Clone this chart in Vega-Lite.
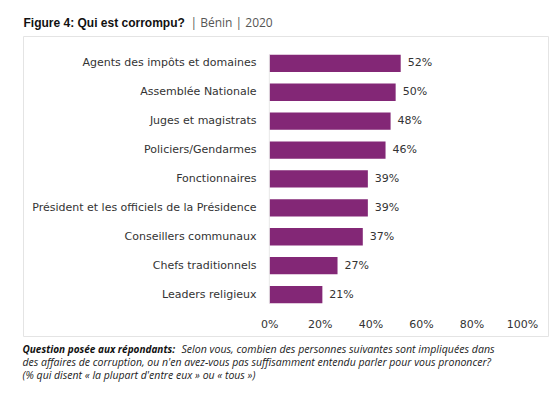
{
  "$schema": "https://vega.github.io/schema/vega-lite/v6.json",
  "width": 525,
  "height": 300,
  "autosize": {"type": "none"},
  "padding": {"left": 23, "top": 36, "right": 2, "bottom": 61},
  "background": "white",
  "config": {
    "view": {"stroke": "#e4e4e4", "strokeWidth": 1},
    "font": "DejaVu Sans",
    "axis": {"grid": false}
  },
  "data": {
    "values": [
      {"groupe": "Agents des impôts et domaines", "valeur": 0.52},
      {"groupe": "Assemblée Nationale", "valeur": 0.50},
      {"groupe": "Juges et magistrats", "valeur": 0.48},
      {"groupe": "Policiers/Gendarmes", "valeur": 0.46},
      {"groupe": "Fonctionnaires", "valeur": 0.39},
      {"groupe": "Président et les officiels de la Présidence", "valeur": 0.39},
      {"groupe": "Conseillers communaux", "valeur": 0.37},
      {"groupe": "Chefs traditionnels", "valeur": 0.27},
      {"groupe": "Leaders religieux", "valeur": 0.21}
    ]
  },
  "resolve": {"axis": {"x": "independent", "y": "independent"}},
  "layer": [
    {
      "mark": {"type": "bar", "color": "#832776"},
      "encoding": {
        "y": {
          "field": "groupe",
          "type": "nominal",
          "sort": null,
          "scale": {
            "domain": ["Agents des impôts et domaines", "Assemblée Nationale", "Juges et magistrats", "Policiers/Gendarmes", "Fonctionnaires", "Président et les officiels de la Présidence", "Conseillers communaux", "Chefs traditionnels", "Leaders religieux"],
            "paddingInner": 0.4,
            "paddingOuter": 0.89,
            "align": 0.363
          },
          "axis": {
            "orient": "left",
            "offset": -246,
            "domain": false,
            "ticks": false,
            "tickSize": 0,
            "labelPadding": 13,
            "labelFontSize": 11,
            "labelColor": "#333333",
            "labelLimit": 300,
            "title": "Question posée aux répondants:",
            "titleFont": "Open Sans",
            "titleAngle": 0,
            "titleX": -247,
            "titleY": 316.5,
            "titleAlign": "left",
            "titleBaseline": "alphabetic",
            "titleFontSize": 10,
            "titleFontWeight": "bold",
            "titleFontStyle": "italic",
            "titleColor": "#111111"
          }
        },
        "x": {
          "field": "valeur",
          "type": "quantitative",
          "scale": {"domain": [-0.9747, 1.1029], "nice": false, "zero": false},
          "axis": {
            "orient": "bottom",
            "offset": -12,
            "values": [0, 0.2, 0.4, 0.6, 0.8, 1],
            "format": ".0%",
            "domain": false,
            "ticks": false,
            "tickSize": 0,
            "labelPadding": 0,
            "labelBaseline": "middle",
            "labelFontSize": 11,
            "labelColor": "#333333",
            "title": ["des affaires de corruption, ou n'en avez-vous pas suffisamment entendu parler pour vous prononcer?", "(% qui disent « la plupart d'entre eux » ou « tous »)"],
            "titleFont": "Open Sans",
            "titleX": -1,
            "titleY": 41.5,
            "titleAlign": "left",
            "titleBaseline": "alphabetic",
            "titleFontSize": 10.5,
            "titleFontWeight": "normal",
            "titleFontStyle": "italic",
            "titleColor": "#222222",
            "titleLineHeight": 13
          }
        }
      }
    },
    {
      "mark": {"type": "text", "align": "left", "baseline": "middle", "dx": 7, "fontSize": 11, "color": "#333333"},
      "encoding": {
        "y": {
          "field": "groupe",
          "type": "nominal",
          "sort": null,
          "axis": {
            "orient": "right",
            "labels": false,
            "domain": false,
            "ticks": false,
            "title": "Selon vous, combien des personnes suivantes sont impliquées dans",
            "titleFont": "Open Sans",
            "titleAngle": 0,
            "titleX": -367,
            "titleY": 316.5,
            "titleAlign": "left",
            "titleBaseline": "alphabetic",
            "titleFontSize": 10.6,
            "titleFontWeight": "normal",
            "titleFontStyle": "italic",
            "titleColor": "#222222"
          }
        },
        "x": {
          "field": "valeur",
          "type": "quantitative",
          "axis": {
            "orient": "top",
            "labels": false,
            "domain": false,
            "ticks": false,
            "title": "| Bénin | 2020",
            "titleFont": "Open Sans",
            "titleX": 167,
            "titleY": -9.3,
            "titleAlign": "left",
            "titleBaseline": "alphabetic",
            "titleFontSize": 12,
            "titleFontWeight": "normal",
            "titleColor": "#555555"
          }
        },
        "text": {"field": "valeur", "type": "quantitative", "format": ".0%"}
      }
    },
    {
      "data": {"values": [{"debut": "Agents des impôts et domaines", "fin": "Leaders religieux", "zero": 0}]},
      "mark": {"type": "rule", "color": "#e8e8e8", "strokeWidth": 1},
      "encoding": {
        "x": {
          "field": "zero",
          "type": "quantitative",
          "axis": {
            "orient": "top",
            "labels": false,
            "domain": false,
            "ticks": false,
            "title": "Figure 4: Qui est corrompu?",
            "titleFont": "Liberation Sans",
            "titleX": 0,
            "titleY": -9.3,
            "titleAlign": "left",
            "titleBaseline": "alphabetic",
            "titleFontSize": 12,
            "titleFontWeight": "bold",
            "titleColor": "#111111"
          }
        },
        "y": {"field": "debut", "type": "nominal", "bandPosition": 0, "axis": null},
        "y2": {"field": "fin", "bandPosition": 1}
      }
    }
  ]
}
